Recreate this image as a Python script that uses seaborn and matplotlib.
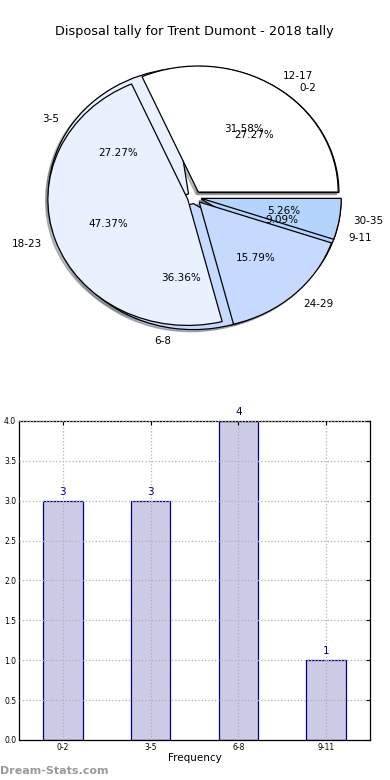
import matplotlib
matplotlib.use("Agg")
import matplotlib.pyplot as plt
import seaborn as sns
import pandas as pd

title = "Disposal tally for Trent Dumont - 2018 tally"
cats_a = ["0-2", "3-5", "6-8", "9-11"]
vals_a = [3, 3, 4, 1]
cats_b = ["12-17", "18-23", "24-29", "30-35"]
vals_b = [6, 9, 3, 1]
pie_colors = ["#ffffff", "#eaf1fe", "#c6d9fe", "#b4d4fe"]
xlabel = "Frequency"
yticks = [0.0, 0.5, 1.0, 1.5, 2.0, 2.5, 3.0, 3.5, 4.0]

sns.set_style("white")
plt.rcParams['font.family'] = ['DejaVu Sans']
plt.rcParams['text.color'] = 'black'
plt.rcParams['xtick.color'] = 'black'
plt.rcParams['ytick.color'] = 'black'
plt.rcParams['axes.labelcolor'] = 'black'

fig = plt.figure(figsize=(3.9, 7.8), dpi=100)

# ---- pie axes ----
axp = fig.add_axes([0.05, 0.545, 0.897, 0.404])
wp = {'edgecolor': 'black', 'linewidth': 0.9}
tp = {'fontsize': 7.5, 'color': 'black'}
sh = {'ox': -0.012, 'oy': -0.012, 'shade': 0.5}
axp.pie(vals_a, labels=cats_a, colors=pie_colors, explode=[0.05] * 4,
        autopct='%.2f%%', shadow=sh, wedgeprops=wp, textprops=tp)
axp.pie(vals_b, labels=cats_b, colors=pie_colors, explode=[0.05] * 4,
        autopct='%.2f%%', shadow=sh, wedgeprops=wp, textprops=tp)
axp.set_aspect('auto')
axp.set_xlim(-1.25, 1.25)
axp.set_ylim(-1.25, 1.25)
axp.set_title(title, fontsize=9.3, pad=3.5, color='black')

# ---- bar axes ----
axb = fig.add_axes([0.0487, 0.0513, 0.9, 0.409])
df = pd.DataFrame({"cat": cats_a, "val": vals_a})
sns.barplot(data=df, x="cat", y="val", ax=axb, width=0.45,
            color=(0.8, 0.8, 0.9), edgecolor="navy", linewidth=0.9,
            saturation=1)
for bar, v in zip(axb.patches, vals_a):
    axb.text(bar.get_x() + bar.get_width() / 2, v + 0.05, str(v),
             ha='center', va='bottom', color='navy', fontsize=7.5)
axb.set_xlim(-0.5, 3.5)
axb.set_ylim(0, 4.0)
axb.set_yticks(yticks)
axb.set_yticklabels([f"{t:.1f}" for t in yticks])
axb.set_xlabel(xlabel, fontsize=7.5, labelpad=1)
axb.set_ylabel("")
axb.tick_params(axis='both', labelsize=5.5, direction='in', length=3,
                top=True, right=True, pad=2, colors='black')
axb.grid(True, linestyle=':', color='#b0b0b0', linewidth=0.9)
axb.set_axisbelow(False)
for s in axb.spines.values():
    s.set_color('black')
    s.set_linewidth(0.9)

fig.text(0.0, 0.005, "Dream-Stats.com", color='#999999', fontsize=8,
         fontweight='bold', ha='left', va='bottom')

fig.savefig("out.png", dpi=100)
